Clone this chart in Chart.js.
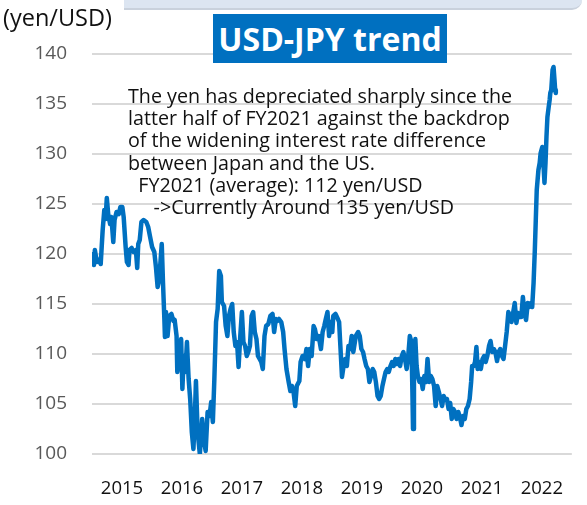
<!DOCTYPE html>
<html>
<head>
<meta charset="utf-8">
<script src="https://cdn.jsdelivr.net/npm/chart.js@4/dist/chart.umd.min.js"></script>
<style>
  body { margin: 0; background: #fff; }
  #wrap { position: relative; width: 587px; height: 505px; overflow: hidden; font-family: "Open Sans", sans-serif; }
  #chart { position: absolute; left: 0; top: 0; }
  .band { position: absolute; left: 124px; top: 0; width: 458px; height: 8px; background: #dce5f1;
          border-bottom: 2px solid #c9d1dc; border-bottom-right-radius: 10px; }
  .unit { position: absolute; left: 3px; top: 6px; font-size: 23.5px; line-height: 1; color: #111; white-space: nowrap; }
  .title { position: absolute; left: 213px; top: 14px; width: 234px; height: 49px; background: #0070c0;
           color: #fff; font-weight: bold; font-size: 32px; line-height: 1;
           display: flex; align-items: center; justify-content: center; white-space: nowrap; }
  .note { position: absolute; left: 128px; top: 85px; font-size: 19.7px; line-height: 22.2px; color: #111; white-space: pre; }
</style>
</head>
<body>
<div id="wrap">
  <canvas id="chart" width="587" height="505"></canvas>
  <div class="band"></div>
  <div class="unit">(yen/USD)</div>
  <div class="title">USD-JPY trend</div>
  <div class="note">The yen has depreciated sharply since the
latter half of FY2021 against the backdrop
of the widening interest rate difference
between Japan and the US.
  FY2021 (average): 112 yen/USD
     -&gt;Currently Around 135 yen/USD</div>
</div>
<script>
// position along the time axis (decimal years) and the rate
const t = [
  2015.016, 2015.032, 2015.048, 2015.081, 2015.113, 2015.145, 2015.178, 2015.205, 2015.226, 2015.247,
  2015.270, 2015.302, 2015.323, 2015.355, 2015.376, 2015.409, 2015.447, 2015.473, 2015.506, 2015.528,
  2015.561, 2015.582, 2015.609, 2015.625, 2015.662, 2015.690, 2015.732, 2015.754, 2015.771, 2015.796,
  2015.824, 2015.861, 2015.905, 2015.937, 2015.969, 2016.002, 2016.039, 2016.066, 2016.094, 2016.120,
  2016.163, 2016.184, 2016.207, 2016.216, 2016.233, 2016.260, 2016.288, 2016.325, 2016.357, 2016.378,
  2016.410, 2016.422, 2016.449, 2016.486, 2016.507, 2016.530, 2016.556, 2016.583, 2016.611, 2016.637,
  2016.664, 2016.691, 2016.717, 2016.733, 2016.761, 2016.798, 2016.837, 2016.863, 2016.895, 2016.927,
  2016.960, 2016.987, 2017.015, 2017.040, 2017.068, 2017.095, 2017.121, 2017.149, 2017.165, 2017.202,
  2017.229, 2017.257, 2017.283, 2017.310, 2017.338, 2017.363, 2017.391, 2017.418, 2017.444, 2017.472,
  2017.499, 2017.525, 2017.553, 2017.580, 2017.606, 2017.633, 2017.661, 2017.687, 2017.714, 2017.742,
  2017.767, 2017.795, 2017.822, 2017.848, 2017.876, 2017.903, 2017.940, 2017.973, 2018.010, 2018.037,
  2018.065, 2018.090, 2018.118, 2018.155, 2018.187, 2018.210, 2018.242, 2018.279, 2018.307, 2018.333,
  2018.360, 2018.388, 2018.414, 2018.457, 2018.478, 2018.511, 2018.549, 2018.575, 2018.603, 2018.630,
  2018.662, 2018.695, 2018.716, 2018.748, 2018.780, 2018.817, 2018.845, 2018.872, 2018.898, 2018.926,
  2018.953, 2018.979, 2019.006, 2019.023, 2019.060, 2019.099, 2019.120, 2019.141, 2019.168, 2019.195,
  2019.221, 2019.249, 2019.276, 2019.302, 2019.330, 2019.357, 2019.399, 2019.438, 2019.464, 2019.491,
  2019.519, 2019.544, 2019.572, 2019.599, 2019.625, 2019.653, 2019.680, 2019.706, 2019.733, 2019.761,
  2019.787, 2019.814, 2019.842, 2019.868, 2019.895, 2019.922, 2019.948, 2019.976, 2020.003, 2020.029,
  2020.057, 2020.084, 2020.110, 2020.137, 2020.165, 2020.191, 2020.218, 2020.246, 2020.271, 2020.299,
  2020.326, 2020.342, 2020.352, 2020.368, 2020.391, 2020.412, 2020.433, 2020.460, 2020.488, 2020.514,
  2020.541, 2020.569, 2020.594, 2020.622, 2020.649, 2020.675, 2020.703, 2020.730, 2020.756, 2020.783,
  2020.811, 2020.837, 2020.864, 2020.892, 2020.918, 2020.945, 2020.972, 2020.998, 2021.026, 2021.053,
  2021.079, 2021.107, 2021.134, 2021.160, 2021.187, 2021.215, 2021.241, 2021.268, 2021.296, 2021.321,
  2021.338, 2021.365, 2021.386, 2021.409, 2021.430, 2021.457, 2021.483, 2021.511, 2021.538, 2021.564,
  2021.591, 2021.619, 2021.645, 2021.672, 2021.700, 2021.725, 2021.753, 2021.780, 2021.806, 2021.834,
  2021.861, 2021.887, 2021.914, 2021.942, 2021.968, 2021.995, 2022.023, 2022.048, 2022.076, 2022.103,
  2022.129, 2022.157, 2022.184, 2022.210, 2022.237, 2022.265, 2022.291, 2022.318, 2022.339, 2022.362,
  2022.383, 2022.399, 2022.415, 2022.443, 2022.464, 2022.480, 2022.507, 2022.523, 2022.544, 2022.561,
  2022.577, 2022.593, 2022.614, 2022.630, 2022.641, 2022.657, 2022.679, 2022.695, 2022.711, 2022.722,
  2022.733
];
const usdJpy = [
  120.0, 118.9, 120.4, 119.2, 119.4, 119.0, 122.4, 124.4, 123.5, 125.6,
  124.0, 123.0, 123.7, 121.2, 123.4, 124.2, 124.0, 124.7, 124.7, 123.7,
  120.7, 119.2, 118.9, 120.4, 120.6, 120.2, 120.4, 118.6, 121.0, 121.4,
  123.2, 123.4, 123.2, 122.7, 121.7, 120.7, 120.2, 118.7, 116.7, 117.4,
  121.0, 117.1, 113.4, 111.7, 114.2, 111.8, 113.8, 114.0, 113.3, 113.4,
  111.8, 108.2, 109.8, 111.5, 106.5, 109.8, 108.2, 111.2, 107.5, 105.5,
  102.2, 100.5, 104.2, 107.3, 102.2, 100.0, 103.5, 101.5, 100.3, 104.2,
  103.8, 105.2, 103.2, 107.5, 113.2, 114.5, 118.3, 117.8, 115.2, 114.8,
  112.8, 111.8, 113.8, 114.5, 115.0, 112.2, 110.8, 111.2, 108.7, 111.8,
  114.2, 111.2, 110.8, 109.8, 110.2, 110.8, 113.8, 114.2, 112.2, 111.5,
  109.8, 109.5, 109.2, 108.5, 111.8, 112.8, 113.0, 113.8, 114.0, 112.2,
  113.5, 113.3, 113.5, 113.2, 112.2, 110.5, 108.5, 107.2, 106.3, 106.8,
  106.2, 104.8, 106.8, 107.3, 109.2, 109.8, 109.5, 110.5, 108.8, 110.5,
  109.8, 112.8, 112.5, 111.5, 111.8, 110.5, 112.2, 112.8, 113.5, 114.2,
  111.8, 113.2, 112.2, 113.8, 114.0, 113.5, 113.2, 110.8, 107.7, 108.8,
  109.5, 108.8, 110.8, 110.5, 111.8, 110.2, 111.8, 112.2, 111.8, 110.5,
  110.2, 109.5, 108.8, 108.5, 107.2, 107.8, 108.5, 108.2, 107.2, 105.8,
  105.5, 105.8, 106.8, 107.5, 108.2, 108.5, 108.2, 108.8, 109.2, 108.8,
  109.5, 109.0, 109.5, 108.8, 109.8, 110.2, 109.5, 108.5, 109.7, 111.8,
  111.2, 106.2, 102.5, 108.8, 111.5, 108.8, 107.8, 107.2, 107.5, 106.5,
  107.8, 107.2, 109.5, 107.2, 107.8, 107.5, 106.8, 104.8, 106.8, 106.2,
  105.5, 104.8, 105.8, 105.4, 105.5, 104.5, 105.1, 103.5, 104.5, 104.2,
  103.5, 104.2, 103.7, 102.9, 103.8, 103.5, 104.5, 104.8, 105.5, 107.2,
  108.8, 108.8, 109.2, 110.7, 108.5, 109.2, 108.5, 109.5, 109.8, 109.2,
  109.8, 110.8, 111.3, 110.2, 110.5, 110.2, 109.3, 110.2, 110.5, 109.8,
  109.5, 110.8, 112.2, 114.2, 113.8, 113.2, 114.2, 115.1, 113.1, 114.1,
  113.7, 113.7, 115.7, 114.1, 113.4, 115.1, 114.7, 115.1, 114.7, 117.1,
  120.4, 123.4, 126.4, 128.4, 129.1, 130.1, 130.7, 129.4, 127.1, 129.1,
  131.7, 133.7, 134.7, 135.4, 136.1, 136.4, 138.4, 138.7, 137.4, 136.4,
  136.1
];
const yearLabels = ['2015', '2016', '2017', '2018', '2019', '2020', '2021', '2022'];

const points = t.map((x, i) => ({ x: x, y: usdJpy[i] }));

new Chart(document.getElementById('chart'), {
  type: 'line',
  data: {
    datasets: [{
      data: points,
      borderColor: '#0070c0',
      borderWidth: 4.5,
      borderJoinStyle: 'round',
      borderCapStyle: 'round',
      pointRadius: 0,
      tension: 0,
      fill: false
    }]
  },
  options: {
    responsive: false,
    animation: false,
    layout: { padding: { top: 54, left: 0, right: 0, bottom: 0 } },
    plugins: { legend: { display: false }, tooltip: { enabled: false } },
    scales: {
      x: {
        type: 'linear',
        min: 2015,
        max: 2023,
        afterFit: axis => { axis.height = 51; },
        afterBuildTicks: axis => {
          axis.ticks = yearLabels.map(y => ({ value: Number(y) + 0.5 }));
        },
        ticks: {
          autoSkip: false,
          maxRotation: 0,
          padding: 24,
          color: '#111',
          font: { family: 'Open Sans', size: 18.5 },
          callback: (v, i) => yearLabels[i]
        },
        grid: { display: false, drawTicks: false },
        border: { display: false }
      },
      y: {
        min: 100,
        max: 140,
        afterFit: axis => { axis.width = 92; },
        ticks: {
          stepSize: 5,
          padding: 25,
          color: '#595959',
          font: { family: 'Open Sans', size: 19 }
        },
        grid: { color: '#d9d9d9', lineWidth: 2, drawTicks: false },
        border: { display: false }
      }
    }
  }
});
</script>
</body>
</html>
